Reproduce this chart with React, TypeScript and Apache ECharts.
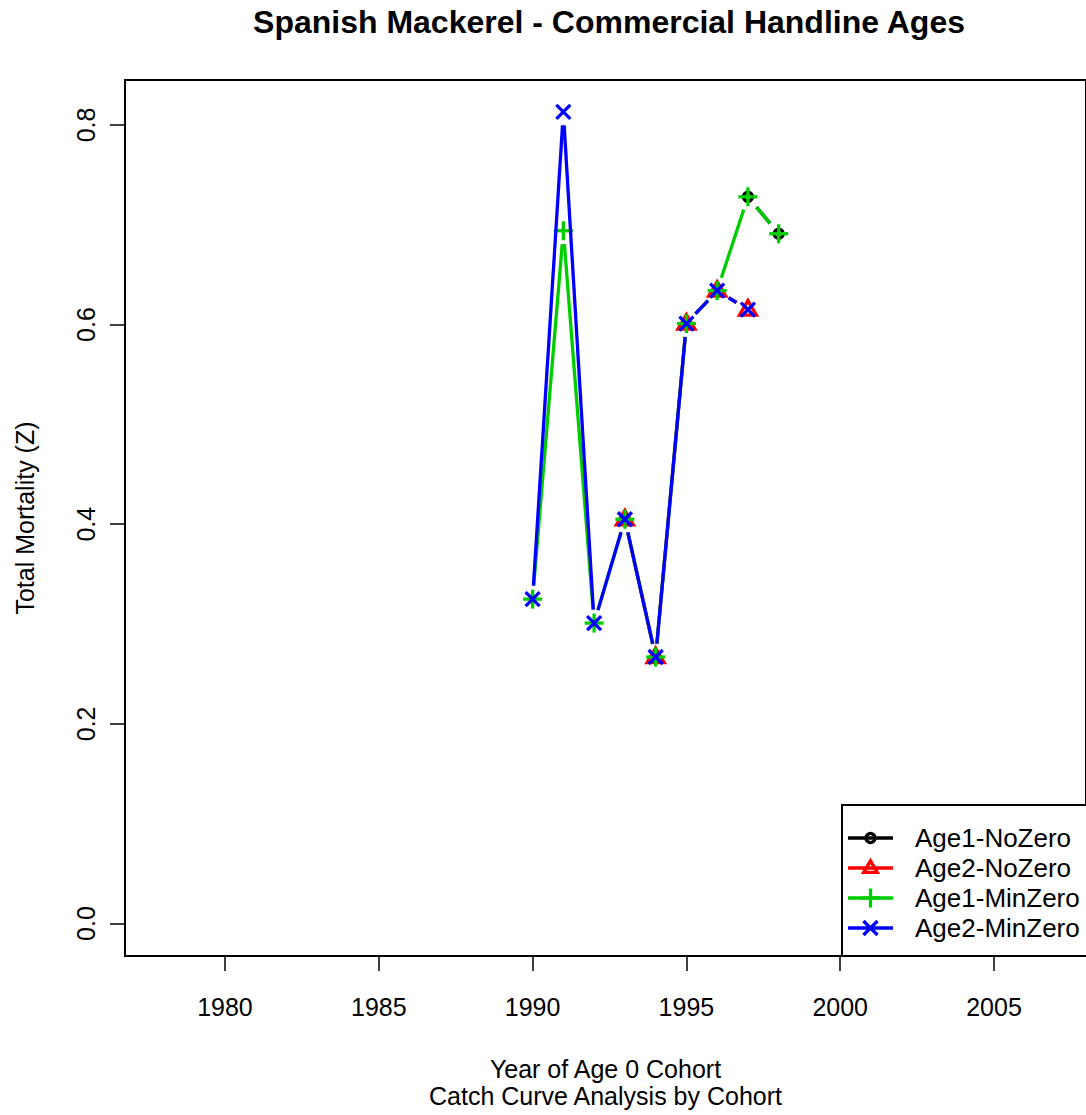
import React, { useEffect, useRef } from "react";
import * as echarts from "echarts";

const TITLE = "Spanish Mackerel - Commercial Handline Ages";
const X_TITLE = "Year of Age 0 Cohort\nCatch Curve Analysis by Cohort";
const Y_TITLE = "Total Mortality (Z)";

const xTicks = [1980, 1985, 1990, 1995, 2000, 2005];
const yTicks = [0, 0.2, 0.4, 0.6, 0.8];

const seriesNames = ["Age1-NoZero", "Age2-NoZero", "Age1-MinZero", "Age2-MinZero"];
const seriesColors = ["#000000", "#ff0000", "#00cd00", "#0000ff"];
const seriesMarkers = ["circle", "triangle", "plus", "cross"];

const age1NoZeroYears = [1997, 1998];
const age1NoZeroZ = [0.728, 0.691];

const age2NoZeroYears = [1993, 1994, 1995, 1996, 1997];
const age2NoZeroZ = [0.405, 0.267, 0.601, 0.634, 0.615];

const age1MinZeroYears = [1990, 1991, 1992, 1993, 1994, 1995, 1996, 1997, 1998];
const age1MinZeroZ = [0.325, 0.694, 0.301, 0.405, 0.267, 0.601, 0.634, 0.728, 0.691];

const age2MinZeroYears = [1990, 1991, 1992, 1993, 1994, 1995, 1996, 1997];
const age2MinZeroZ = [0.325, 0.813, 0.301, 0.405, 0.267, 0.601, 0.634, 0.615];

const allYears = [age1NoZeroYears, age2NoZeroYears, age1MinZeroYears, age2MinZeroYears];
const allZ = [age1NoZeroZ, age2NoZeroZ, age1MinZeroZ, age2MinZeroZ];

const FONT = "'Liberation Sans', Arial, Helvetica, sans-serif";
const GAP = 13.5;
const LW = 3.3;

function markerShapes(kind: string, cx: number, cy: number, color: string, scale = 1) {
  const st = { stroke: color, lineWidth: LW, fill: "none" };
  if (kind === "circle") {
    return [{ type: "circle", shape: { cx, cy, r: 4.5 * scale }, style: st }];
  }
  if (kind === "triangle") {
    const h = 8.5 * scale;
    return [
      {
        type: "polygon",
        shape: {
          points: [
            [cx, cy - 9 * scale],
            [cx + h, cy + 5.5 * scale],
            [cx - h, cy + 5.5 * scale],
          ],
        },
        style: st,
      },
    ];
  }
  if (kind === "plus") {
    const r = 9.5 * scale;
    return [
      { type: "line", shape: { x1: cx - r, y1: cy, x2: cx + r, y2: cy }, style: st },
      { type: "line", shape: { x1: cx, y1: cy - r, x2: cx, y2: cy + r }, style: st },
    ];
  }
  const r = 7 * scale;
  return [
    { type: "line", shape: { x1: cx - r, y1: cy - r, x2: cx + r, y2: cy + r }, style: st },
    { type: "line", shape: { x1: cx - r, y1: cy + r, x2: cx + r, y2: cy - r }, style: st },
  ];
}

export default function App() {
  const ref = useRef<HTMLDivElement>(null);

  useEffect(() => {
    if (!ref.current) return;
    const chart = echarts.init(ref.current, undefined, { renderer: "svg" });

    const series: any[] = [];
    seriesNames.forEach((name, i) => {
      const years = allYears[i];
      const vals = allZ[i];
      const color = seriesColors[i];
      const segs: number[][] = [];
      for (let k = 0; k < years.length - 1; k++) {
        segs.push([years[k], vals[k], years[k + 1], vals[k + 1]]);
      }
      series.push({
        type: "custom",
        name: name + " line",
        z: 2 + i * 2,
        dimensions: ["x1", "y1", "x2", "y2"],
        encode: { x: [0, 2], y: [1, 3] },
        data: segs,
        renderItem: (_p: any, api: any) => {
          const a = api.coord([api.value(0), api.value(1)]);
          const b = api.coord([api.value(2), api.value(3)]);
          const dx = b[0] - a[0];
          const dy = b[1] - a[1];
          const len = Math.sqrt(dx * dx + dy * dy);
          if (len <= 2 * GAP) return null;
          const ux = dx / len;
          const uy = dy / len;
          return {
            type: "line",
            shape: {
              x1: a[0] + ux * GAP,
              y1: a[1] + uy * GAP,
              x2: b[0] - ux * GAP,
              y2: b[1] - uy * GAP,
            },
            style: { stroke: color, lineWidth: LW, lineCap: "butt" },
          };
        },
      });
      series.push({
        type: "custom",
        name,
        z: 3 + i * 2,
        dimensions: ["year", "z"],
        encode: { x: 0, y: 1 },
        data: years.map((y, k) => [y, vals[k]]),
        renderItem: (_p: any, api: any) => {
          const c = api.coord([api.value(0), api.value(1)]);
          return {
            type: "group",
            children: markerShapes(seriesMarkers[i], c[0], c[1], color),
          };
        },
      });
    });

    const legendChildren: any[] = [
      {
        type: "rect",
        shape: { x: 842, y: 805, width: 260, height: 151 },
        style: { fill: "#fff", stroke: "#000", lineWidth: 2 },
      },
    ];
    seriesNames.forEach((name, i) => {
      const y = 838 + i * 30;
      legendChildren.push({
        type: "line",
        shape: { x1: 848, y1: y, x2: 893, y2: y },
        style: { stroke: seriesColors[i], lineWidth: LW },
      });
      markerShapes(seriesMarkers[i], 870.5, y, seriesColors[i], i === 1 ? 0.8 : 1).forEach((s) =>
        legendChildren.push(s)
      );
      legendChildren.push({
        type: "text",
        x: 915,
        y,
        style: {
          text: name,
          font: `26px ${FONT}`,
          fill: "#000",
          textAlign: "left",
          textVerticalAlign: "middle",
        },
      });
    });

    chart.setOption({
      animation: false,
      backgroundColor: "#ffffff",
      grid: {
        left: 125,
        top: 80,
        right: 0,
        bottom: 159,
        show: true,
        borderColor: "#000",
        borderWidth: 2,
        backgroundColor: "transparent",
      },
      xAxis: {
        type: "value",
        min: 1976.75,
        max: 2007.99,
        name: X_TITLE,
        nameLocation: "middle",
        nameGap: 99,
        nameTextStyle: { fontSize: 25, color: "#000", fontFamily: FONT, lineHeight: 27 },
        axisLine: { show: false, onZero: false },
        splitLine: { show: false },
        axisTick: {
          show: true,
          length: 15,
          customValues: xTicks,
          lineStyle: { color: "#000", width: 1.5 },
        },
        axisLabel: {
          customValues: xTicks,
          fontSize: 25,
          color: "#000",
          fontFamily: FONT,
          margin: 38,
          formatter: (v: number) => String(Math.round(v)),
        },
      },
      yAxis: {
        type: "value",
        min: -0.0325,
        max: 0.845,
        name: Y_TITLE,
        nameLocation: "middle",
        nameGap: 88,
        nameTextStyle: { fontSize: 25, color: "#000", fontFamily: FONT },
        axisLine: { show: false, onZero: false },
        splitLine: { show: false },
        axisTick: {
          show: true,
          length: 15,
          customValues: yTicks,
          lineStyle: { color: "#000", width: 1.5 },
        },
        axisLabel: {
          customValues: yTicks,
          rotate: 90,
          fontSize: 25,
          color: "#000",
          fontFamily: FONT,
          margin: 27,
          formatter: (v: number) => v.toFixed(1),
        },
      },
      graphic: [
        {
          type: "text",
          x: 609,
          y: 22,
          z: 100,
          style: {
            text: TITLE,
            font: `bold 32px ${FONT}`,
            fill: "#000",
            textAlign: "center",
            textVerticalAlign: "middle",
          },
        },
        { type: "group", z: 100, children: legendChildren },
      ],
      series,
    });

    return () => chart.dispose();
  }, []);

  return (
    <div
      ref={ref}
      style={{ position: "absolute", left: 0, top: 0, width: 1086, height: 1115, background: "#fff" }}
    />
  );
}
